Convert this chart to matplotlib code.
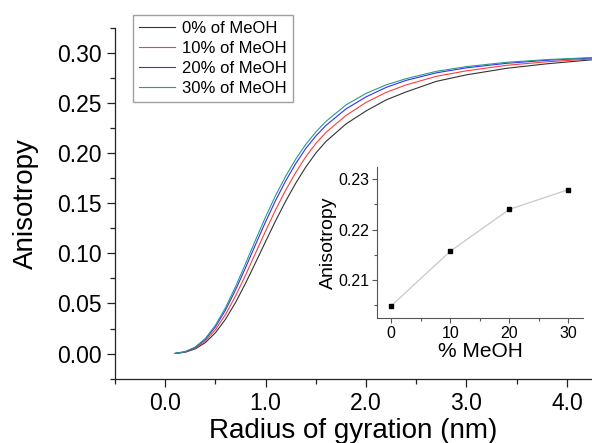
import matplotlib
matplotlib.use("Agg")
import matplotlib.pyplot as plt
from matplotlib.ticker import MultipleLocator

plt.rcParams['font.family'] = ['Liberation Sans', 'DejaVu Sans']

# ---- data ----
rg = [0.1, 0.2, 0.3, 0.4, 0.5, 0.6, 0.7, 0.8, 0.9, 1.0, 1.1, 1.2, 1.3, 1.4,
      1.5, 1.6, 1.8, 2.0, 2.2, 2.4, 2.7, 3.0, 3.4, 3.8, 4.25]
aniso_0 = [0.0002, 0.0014, 0.0048, 0.0110, 0.0208, 0.0342, 0.0509, 0.0701,
           0.0908, 0.1119, 0.1326, 0.1521, 0.1700, 0.1861, 0.2000, 0.2115,
           0.2290, 0.2420, 0.2530, 0.2610, 0.2715, 0.2780, 0.2845, 0.2890, 0.2930]
aniso_10 = [0.0002, 0.0017, 0.0055, 0.0127, 0.0238, 0.0389, 0.0574, 0.0783,
            0.1004, 0.1224, 0.1436, 0.1631, 0.1807, 0.1963, 0.2095, 0.2205,
            0.2375, 0.2505, 0.2605, 0.2680, 0.2765, 0.2820, 0.2875, 0.2910, 0.2938]
aniso_20 = [0.0002, 0.0019, 0.0062, 0.0143, 0.0267, 0.0433, 0.0634, 0.0857,
            0.1089, 0.1316, 0.1529, 0.1723, 0.1896, 0.2046, 0.2170, 0.2275,
            0.2440, 0.2560, 0.2655, 0.2725, 0.2800, 0.2850, 0.2895, 0.2925, 0.2948]
aniso_30 = [0.0003, 0.0020, 0.0066, 0.0152, 0.0283, 0.0458, 0.0667, 0.0897,
            0.1134, 0.1364, 0.1578, 0.1770, 0.1940, 0.2087, 0.2210, 0.2315,
            0.2480, 0.2595, 0.2680, 0.2742, 0.2815, 0.2862, 0.2905, 0.2932, 0.2952]
series_labels = ["0% of MeOH", "10% of MeOH", "20% of MeOH", "30% of MeOH"]
series_colors = ["#333333", "#ff3c3c", "#2f2fff", "#2a9a8a"]

meoh_pct = [0, 10, 20, 30]
meoh_aniso = [0.2049, 0.2157, 0.2240, 0.2279]

main_xticks = [0.0, 1.0, 2.0, 3.0, 4.0]
main_xticklabels = ["0.0", "1.0", "2.0", "3.0", "4.0"]
main_yticks = [0.00, 0.05, 0.10, 0.15, 0.20, 0.25, 0.30]
main_yticklabels = ["0.00", "0.05", "0.10", "0.15", "0.20", "0.25", "0.30"]
inset_xticks = [0, 10, 20, 30]
inset_yticks = [0.21, 0.22, 0.23]
inset_yticklabels = ["0.21", "0.22", "0.23"]

# ---- figure ----
fig = plt.figure(figsize=(5.92, 4.43), dpi=100)
ax = fig.add_axes([115/592, 1-378.7/443, 1-115/592, (378.7-27.7)/443])

for ys, lab, col in zip([aniso_0, aniso_10, aniso_20, aniso_30], series_labels, series_colors):
    ax.plot(rg, ys, color=col, lw=0.8, label=lab)

ax.set_xlim(-0.5, 4.25)
ax.set_ylim(-0.025, 0.325)
ax.set_xticks(main_xticks)
ax.set_xticklabels(main_xticklabels)
ax.set_yticks(main_yticks)
ax.set_yticklabels(main_yticklabels)
ax.xaxis.set_minor_locator(MultipleLocator(0.5))
ax.yaxis.set_minor_locator(MultipleLocator(0.025))
for s in ['top', 'right']:
    ax.spines[s].set_visible(False)
for s in ['left', 'bottom']:
    ax.spines[s].set_linewidth(0.9)
    ax.spines[s].set_color('#222222')
ax.tick_params(which='major', direction='out', length=6, width=0.9, labelsize=16.5, color='#222222')
ax.tick_params(which='minor', direction='out', length=3.5, width=0.9, color='#222222')
ax.set_xlabel("Radius of gyration (nm)", fontsize=20, labelpad=2)
ax.set_ylabel("Anisotropy", fontsize=20, labelpad=13)

leg = ax.legend(loc='upper left', bbox_to_anchor=(0.0377, 1.035), borderaxespad=0,
                fontsize=12, frameon=True, fancybox=False, handlelength=2.2,
                handletextpad=0.4, labelspacing=0.3, borderpad=0.35)
leg.get_frame().set_edgecolor('#888888')
leg.get_frame().set_linewidth(1.0)

# ---- inset ----
ins = fig.add_axes([377/592, 1-318/443, (583-377)/592, (318-167)/443])
ins.plot(meoh_pct, meoh_aniso, color='#c8c8c8', lw=0.9, marker='s', ms=3.2,
         mfc='black', mec='black')
ins.set_xlim(-2.4, 32.5)
ins.set_ylim(0.2025, 0.2324)
ins.set_xticks(inset_xticks)
ins.set_yticks(inset_yticks)
ins.set_yticklabels(inset_yticklabels)
ins.xaxis.set_minor_locator(MultipleLocator(5))
ins.yaxis.set_minor_locator(MultipleLocator(0.005))
for s in ['top', 'right']:
    ins.spines[s].set_visible(False)
for s in ['left', 'bottom']:
    ins.spines[s].set_linewidth(0.8)
    ins.spines[s].set_color('#555555')
ins.tick_params(which='major', direction='out', length=3.5, width=0.8, labelsize=11.5,
                color='#555555', pad=2)
ins.tick_params(which='minor', direction='out', length=2, width=0.8, color='#555555')
ins.set_xlabel("% MeOH", fontsize=15, labelpad=1)
ins.set_ylabel("Anisotropy", fontsize=14, labelpad=1)

fig.savefig("out.png", dpi=100)
